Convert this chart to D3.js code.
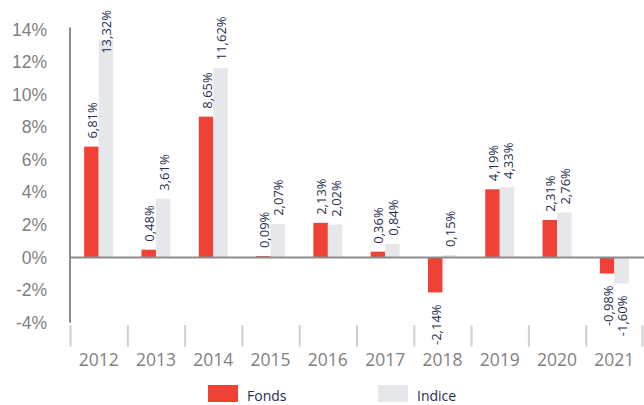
<!DOCTYPE html>
<html>
<head>
    <meta charset="utf-8">
    <title>Fonds vs Indice</title>
    <script src="https://cdnjs.cloudflare.com/ajax/libs/d3/7.8.5/d3.min.js"></script>
    <style>
        body { margin: 0; background: #fff; }
        svg { display: block; font-family: "Open Sans", sans-serif; }
    </style>
</head>
<body>
<script>
    var years = ["2012", "2013", "2014", "2015", "2016", "2017", "2018", "2019", "2020", "2021"];
    var series = ["Fonds", "Indice"];
    var fonds = [6.81, 0.48, 8.65, 0.09, 2.13, 0.36, -2.14, 4.19, 2.31, -0.98];
    var indice = [13.32, 3.61, 11.62, 2.07, 2.02, 0.84, 0.15, 4.33, 2.76, -1.60];
    var yTicks = [-4, -2, 0, 2, 4, 6, 8, 10, 12, 14];

    var width = 644, height = 405,
        colors = {Fonds: "#ef4136", Indice: "#e6e7eb"},
        barWidth = 14.5;

    var svg = d3.select("body").append("svg")
        .attr("width", width)
        .attr("height", height);

    var x = d3.scaleBand().domain(years).range([70, 643]);
    var xs = d3.scaleBand().domain(series)
        .range([x.bandwidth() / 2 - barWidth, x.bandwidth() / 2 + barWidth]);
    var y = d3.scaleLinear().domain([-4, 14]).range([322.7, 29.5]);

    // french style: comma decimal, plain hyphen for negatives
    var fmt = function (v) {
        return d3.format(".2f")(v).replace(".", ",").replace("\u2212", "-") + "%";
    };

    // y axis
    var yAxis = d3.axisLeft(y)
        .tickValues(yTicks)
        .tickSize(0)
        .tickPadding(23)
        .tickFormat(function (d) { return d + "%"; });

    var gy = svg.append("g")
        .attr("transform", "translate(70,0)")
        .call(yAxis);
    gy.select(".domain")
        .attr("d", "M0," + (y(14) - 2) + "V" + y(-4))
        .attr("stroke", "#8c8c8c")
        .attr("stroke-width", 2);
    gy.selectAll("text")
        .attr("fill", "#7f7f7f")
        .style("font-size", "17.5px");

    // category separators below the plot
    svg.append("g").selectAll("line")
        .data(years.concat(["end"]))
        .join("line")
        .attr("x1", function (d, i) { return i < years.length ? x(d) + 0.5 : x.range()[1] - 0.5; })
        .attr("x2", function (d, i) { return i < years.length ? x(d) + 0.5 : x.range()[1] - 0.5; })
        .attr("y1", y(-4) + 2.5)
        .attr("y2", y(-4) + 24)
        .attr("stroke", "#cfcfcf")
        .attr("stroke-width", 2);

    svg.append("g").selectAll("text")
        .data(years)
        .join("text")
        .attr("x", function (d) { return x(d) + x.bandwidth() / 2; })
        .attr("y", 366)
        .attr("text-anchor", "middle")
        .attr("fill", "#7f7f7f")
        .style("font-size", "17.5px")
        .text(function (d) { return d; });

    // bars
    var rows = [];
    years.forEach(function (yr, i) {
        rows.push({year: yr, key: "Fonds", value: fonds[i]});
        rows.push({year: yr, key: "Indice", value: indice[i]});
    });

    svg.append("g").selectAll("rect")
        .data(rows)
        .join("rect")
        .attr("x", function (d) { return x(d.year) + xs(d.key); })
        .attr("width", xs.bandwidth())
        .attr("y", function (d) { return y(Math.max(0, d.value)); })
        .attr("height", function (d) { return Math.abs(y(d.value) - y(0)); })
        .attr("fill", function (d) { return colors[d.key]; });

    // zero line
    svg.append("line")
        .attr("x1", 70).attr("x2", width)
        .attr("y1", y(0)).attr("y2", y(0))
        .attr("stroke", "#8c8c8c")
        .attr("stroke-width", 2);

    // value labels, rotated
    var labels = svg.append("g").selectAll("text")
        .data(rows)
        .join("text")
        .attr("fill", "#1f2d4d")
        .style("font-size", "13px")
        .attr("dominant-baseline", "central")
        .attr("text-anchor", function (d) { return d.value < 0 ? "end" : "start"; })
        .text(function (d) { return fmt(d.value); });

    labels.attr("transform", function (d) {
        var cx = x(d.year) + xs(d.key) + xs.bandwidth() / 2 + 0.5;
        var len = this.getComputedTextLength();
        var py;
        if (d.value < 0) {
            py = y(d.value) + 12;
        } else {
            py = y(d.value) - 8;
            if (py - len < 10) py = 10 + len;
        }
        return "translate(" + cx + "," + py + ") rotate(-90)";
    });

    // legend
    var legend = svg.append("g").selectAll("g")
        .data(series)
        .join("g")
        .attr("transform", function (d, i) { return "translate(" + (208 + i * 170) + ",385)"; });
    legend.append("rect")
        .attr("width", 30)
        .attr("height", 17)
        .attr("fill", function (d) { return colors[d]; });
    legend.append("text")
        .attr("x", 39)
        .attr("y", 16)
        .attr("fill", "#1f2d4d")
        .style("font-size", "14px")
        .text(function (d) { return d; });
</script>
</body>
</html>
